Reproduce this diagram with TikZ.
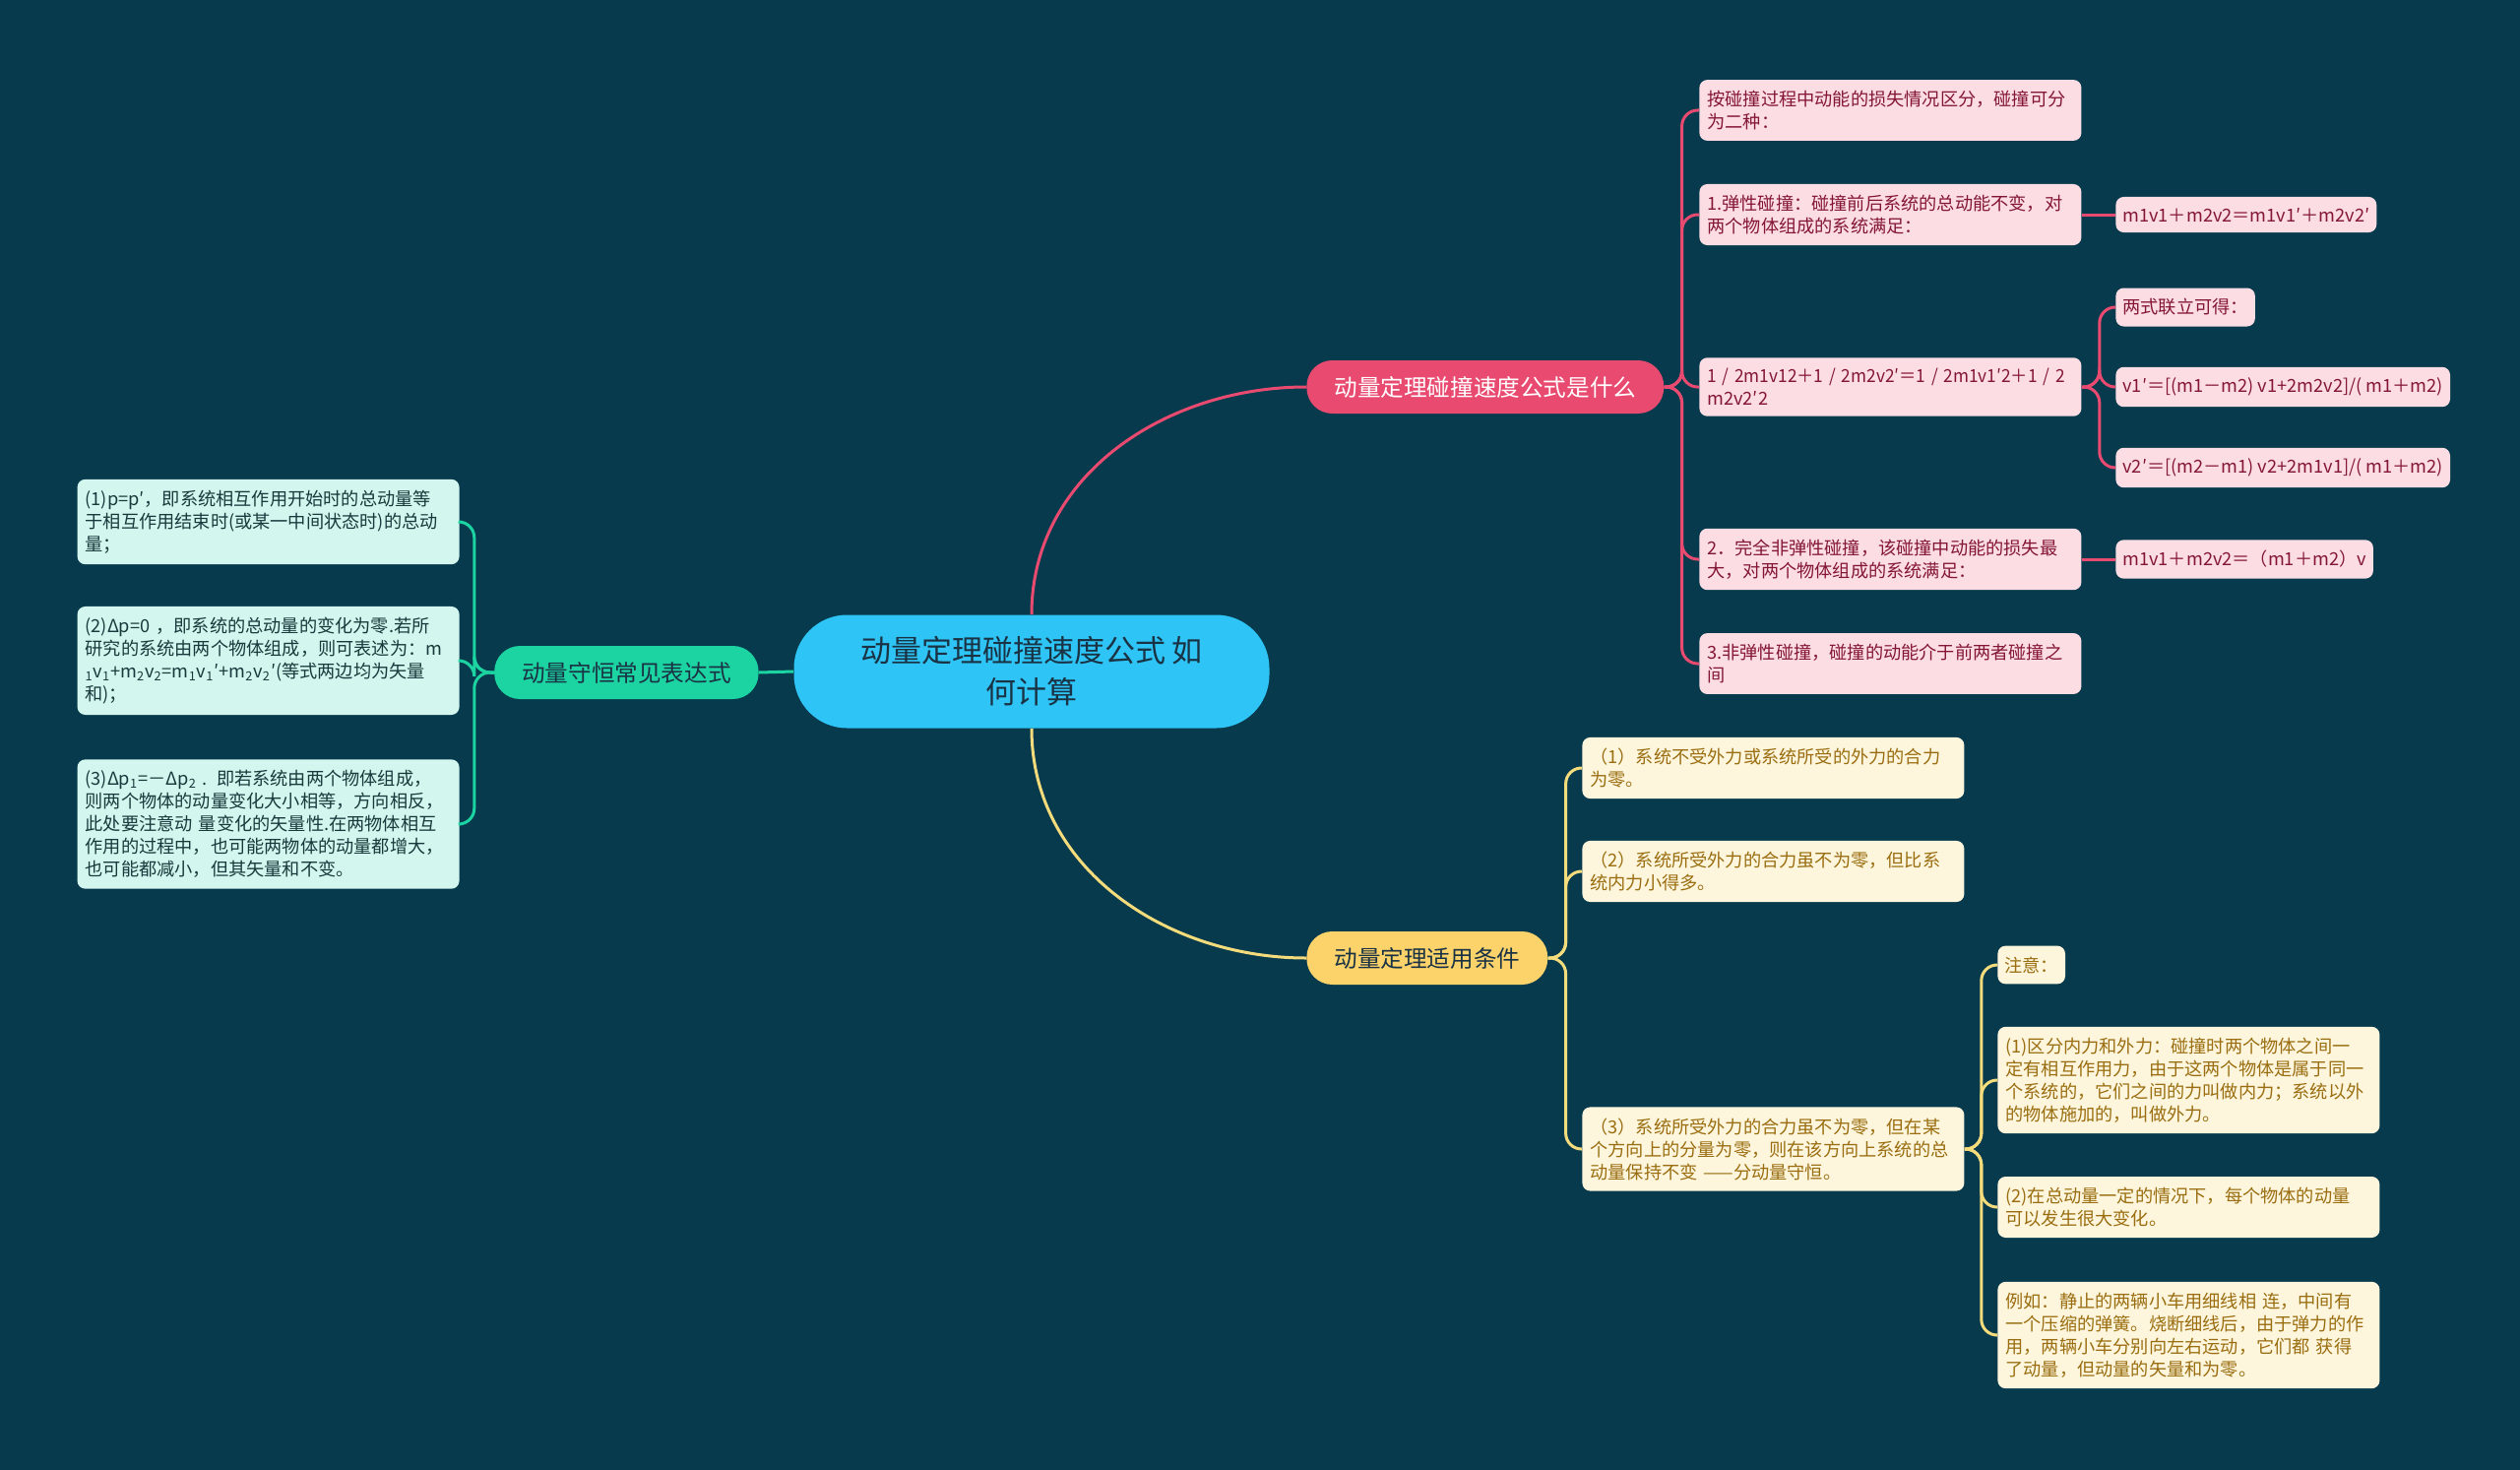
\documentclass[tikz,border=0pt]{standalone}
\usepackage{fontspec}
\setmainfont{Noto Sans CJK SC}
\definecolor{mmbg}{HTML}{073A4D}
\definecolor{mmblue}{HTML}{2EC4F5}
\definecolor{mmdark}{HTML}{1A3344}
\definecolor{mmgreen}{HTML}{1CD3A2}
\definecolor{mmmint}{HTML}{D3F6EE}
\definecolor{mmmintt}{HTML}{173A3C}
\definecolor{mmred}{HTML}{E84A70}
\definecolor{mmpink}{HTML}{FCDDE4}
\definecolor{mmpinkt}{HTML}{841635}
\definecolor{mmyellow}{HTML}{FCD26A}
\definecolor{mmcream}{HTML}{FDF5DC}
\definecolor{mmcreamt}{HTML}{9A6E10}
\definecolor{mmyline}{HTML}{F4DC7C}

\begin{document}
\begin{tikzpicture}[x=0.5pt,y=-0.5pt, %pixel units, origin top left
  root/.style={fill=mmblue,text=mmdark,rounded corners=27pt,minimum width=241.5pt,minimum height=57.5pt,align=center,font=\fontsize{15.5}{21}\selectfont},
  topic/.style={rounded corners=13pt,minimum height=27pt,inner xsep=14pt,font=\fontsize{11.8}{14}\selectfont},
  leaf/.style={rounded corners=4pt,text width=186pt,align=left,inner xsep=4pt,inner ysep=5.5pt,font=\fontsize{9.1}{11.5}\selectfont},
  short/.style={rounded corners=4pt,inner xsep=3.5pt,inner ysep=5.5pt,font=\fontsize{9.1}{11.5}\selectfont},
  link/.style={line width=1.5pt,rounded corners=8pt}]
\fill[mmbg] (0,0) rectangle (2560,1493); %background
\useasboundingbox (0,0) rectangle (2560,1493);

\node[root] (root) at (1048,682) {动量定理碰撞速度公式 如\\何计算};

% left topic (green)
\node[topic,fill=mmgreen,text=mmdark,anchor=east] (expr) at (771,683) {动量守恒常见表达式};
\begin{scope}[every node/.style={leaf,fill=mmmint,text=mmmintt,anchor=east}]
\node (expr1) at (467,530) {(1)p=p′，即系统相互作用开始时的总动量等\\于相互作用结束时(或某一中间状态时)的总动\\量；};
\node (expr2) at (467,671) {(2)Δp=0 ，即系统的总动量的变化为零.若所\\研究的系统由两个物体组成，则可表述为：m\\\textsubscript{1}v\textsubscript{1}+m\textsubscript{2}v\textsubscript{2}=m\textsubscript{1}v\textsubscript{1}′+m\textsubscript{2}v\textsubscript{2}′(等式两边均为矢量\\和)；};
\node (expr3) at (467,837) {(3)Δp\textsubscript{1}=－Δp\textsubscript{2} . 即若系统由两个物体组成，\\则两个物体的动量变化大小相等，方向相反，\\此处要注意动 量变化的矢量性.在两物体相互\\作用的过程中，也可能两物体的动量都增大，\\也可能都减小，但其矢量和不变。};
\end{scope}

% top right topic (red)
\node[topic,fill=mmred,text=white,anchor=west] (formula) at (1327,393) {动量定理碰撞速度公式是什么};
\begin{scope}[every node/.style={leaf,fill=mmpink,text=mmpinkt,anchor=west}]
\node (kind) at (1726,112) {按碰撞过程中动能的损失情况区分，碰撞可分\\为二种：};
\node (elastic) at (1726,218) {1.弹性碰撞：碰撞前后系统的总动能不变，对\\两个物体组成的系统满足：};
\node (energy) at (1726,393) {\scalebox{0.95}[1]{1 / 2m1v12＋1 / 2m2v2′＝1 / 2m1v1′2＋1 / 2}\\m2v2′2};
\node (perfect) at (1726,568) {2．完全非弹性碰撞，该碰撞中动能的损失最\\大，对两个物体组成的系统满足：};
\node (inelastic) at (1726,674) {3.非弹性碰撞，碰撞的动能介于前两者碰撞之\\间};
\end{scope}
\begin{scope}[every node/.style={short,fill=mmpink,text=mmpinkt,anchor=west}]
\node (elasticeq) at (2149,218) {m1v1＋m2v2＝m1v1′＋m2v2′};
\node (joint) at (2149,312) {两式联立可得：};
\node (vone) at (2149,393) {v1′＝[(m1－m2) v1+2m2v2]/( m1＋m2)};
\node (vtwo) at (2149,475) {v2′＝[(m2－m1) v2+2m1v1]/( m1＋m2)};
\node (perfecteq) at (2149,568) {m1v1＋m2v2＝（m1＋m2）v};
\end{scope}

% bottom right topic (yellow)
\node[topic,fill=mmyellow,text=mmdark,anchor=west] (cond) at (1327,973) {动量定理适用条件};
\begin{scope}[every node/.style={leaf,fill=mmcream,text=mmcreamt,anchor=west}]
\node (cond1) at (1607,780) {（1）系统不受外力或系统所受的外力的合力\\为零。};
\node (cond2) at (1607,885) {（2）系统所受外力的合力虽不为零，但比系\\统内力小得多。};
\node (cond3) at (1607,1167) {（3）系统所受外力的合力虽不为零，但在某\\个方向上的分量为零，则在该方向上系统的总\\动量保持不变 ——分动量守恒。};
\node (note2) at (2029,1097) {(1)区分内力和外力：碰撞时两个物体之间一\\定有相互作用力，由于这两个物体是属于同一\\个系统的，它们之间的力叫做内力；系统以外\\的物体施加的，叫做外力。};
\node (note3) at (2029,1226) {(2)在总动量一定的情况下，每个物体的动量\\可以发生很大变化。};
\node (note4) at (2029,1356) {例如：静止的两辆小车用细线相 连，中间有\\一个压缩的弹簧。烧断细线后，由于弹力的作\\用，两辆小车分别向左右运动，它们都 获得\\了动量，但动量的矢量和为零。};
\end{scope}
\node[short,fill=mmcream,text=mmcreamt,anchor=west] (note1) at (2029,980) {注意：};

% connectors
\draw[link,mmgreen] (root.west) -- (expr.east);
\foreach \n in {expr1,expr2,expr3}
  \draw[link,mmgreen] (expr.west) -- ++(-20,0) |- (\n.east);
\draw[line width=1.5pt,mmred] (root.north) to[out=90,in=180] (formula.west);
\foreach \n in {kind,elastic,energy,perfect,inelastic}
  \draw[link,mmred] (formula.east) -- ++(18,0) |- (\n.west);
\draw[link,mmred] (elastic.east) -- (elasticeq.west);
\draw[link,mmred] (perfect.east) -- (perfecteq.west);
\foreach \n in {joint,vone,vtwo}
  \draw[link,mmred] (energy.east) -- ++(18,0) |- (\n.west);
\draw[line width=1.5pt,mmyline] (root.south) to[out=-90,in=180] (cond.west);
\foreach \n in {cond1,cond2,cond3}
  \draw[link,mmyline] (cond.east) -- ++(18,0) |- (\n.west);
\foreach \n in {note1,note2,note3,note4}
  \draw[link,mmyline] (cond3.east) -- ++(17,0) |- (\n.west);
\end{tikzpicture}
\end{document}
